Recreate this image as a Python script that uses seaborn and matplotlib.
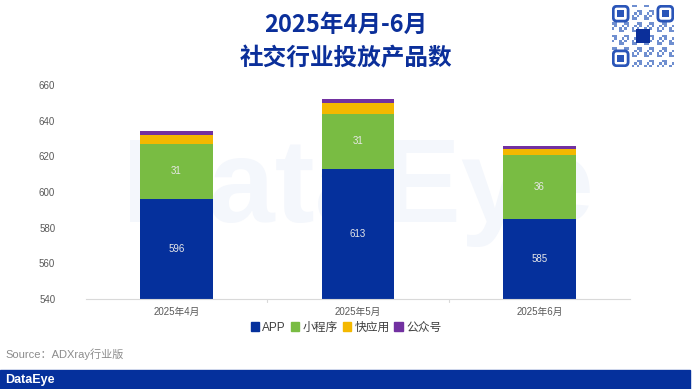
import matplotlib
matplotlib.use("Agg")
import matplotlib.pyplot as plt
from matplotlib.patches import Rectangle, FancyBboxPatch
import numpy as np
import pandas as pd
import seaborn as sns

months = ["2025年4月", "2025年5月", "2025年6月"]
series = ["APP", "小程序", "快应用", "公众号"]
app = [596, 613, 585]
mini = [31, 31, 36]
quick = [5, 6, 3]
wechat = [2, 2, 2]
colors = ["#05309c", "#79bc43", "#f4b800", "#7231a1"]
yticks = [540, 560, 580, 600, 620, 640, 660]

sns.set_theme(style="white")
plt.rcParams["font.family"] = ["Liberation Sans", "Noto Sans CJK SC", "DejaVu Sans"]

df = pd.DataFrame({"month": months, "APP": app, "小程序": mini, "快应用": quick, "公众号": wechat})
cum = df[series].cumsum(axis=1)
cum["month"] = months

fig = plt.figure(figsize=(6.92, 3.89), dpi=100)
ax = fig.add_axes([0.1239, 0.2314, 0.787, 0.5501])

# faint watermark behind the bars
ax.text(0.5, 0.5, "DataEye", transform=ax.transAxes, ha="center", va="center",
        fontsize=86, fontweight="bold", color="#f4f7fc", zorder=0)

# stacked bars: draw cumulative totals from the top series down
for s, c in zip(reversed(series), reversed(colors)):
    sns.barplot(data=cum, x="month", y=s, color=c, width=0.4, saturation=1,
                ax=ax, zorder=2, edgecolor="none")

ax.set_ylim(540, 660)
ax.set_yticks(yticks)
ax.set_xlim(-0.5, 2.5)
ax.set_xlabel("")
ax.set_ylabel("")
ax.tick_params(axis="y", labelsize=7, colors="#595959", length=0, pad=22)
ax.tick_params(axis="x", labelsize=7, colors="#595959", length=0, pad=6)
for sp in ["top", "right", "left"]:
    ax.spines[sp].set_visible(False)
ax.spines["bottom"].set_color("#d9d9d9")
ax.spines["bottom"].set_linewidth(0.8)
for xb in [0.5, 1.5]:
    ax.plot([xb, xb], [540, 538.5], color="#d9d9d9", lw=0.8, clip_on=False)

# value labels
for i in range(3):
    ax.text(i, (540 + app[i]) / 2, str(app[i]), ha="center", va="center",
            fontsize=7, color="#e8e8e8", zorder=5)
    ax.text(i, app[i] + mini[i] / 2, str(mini[i]), ha="center", va="center",
            fontsize=7, color="#e8e8e8", zorder=5)

# legend
handles = [Rectangle((0, 0), 1, 1, color=c) for c in colors]
fig.legend(handles, series, loc="center", bbox_to_anchor=(0.5, 0.158), ncol=4,
           frameon=False, fontsize=8.5, handlelength=0.7, handleheight=0.7,
           handletextpad=0.3, columnspacing=0.4, labelcolor="#404040")

# title
fig.text(0.5, 0.935, "2025年4月-6月", ha="center", va="center", fontsize=17,
         fontweight="bold", color="#0b2f9a", family=["Noto Sans CJK SC"])
fig.text(0.5, 0.85, "社交行业投放产品数", ha="center", va="center", fontsize=17,
         fontweight="bold", color="#0b2f9a", family=["Noto Sans CJK SC"])

# source and footer band
fig.text(0.008, 0.09, "Source：ADXray行业版", ha="left", va="center", fontsize=8,
         color="#8c8c8c", family=["Liberation Sans", "Noto Sans CJK SC"])
fig.patches.append(Rectangle((0, 0.0), 0.997, 0.049, transform=fig.transFigure,
                             color="#05309c", zorder=0))
fig.text(0.008, 0.024, "DataEye", ha="left", va="center", fontsize=9,
         color="white", fontweight="bold", family=["Liberation Sans"])

# QR code placeholder
qx, qy, qs = 612 / 692, 1 - 67 / 389, 62 / 692
qax = fig.add_axes([qx, qy, qs, 62 / 389])
qax.set_xlim(0, 25)
qax.set_ylim(0, 25)
qax.axis("off")
n = 25
for i in range(n):
    for j in range(n):
        if (i * 7 + j * 13 + i * j) % 5 < 2:
            qax.add_patch(Rectangle((i, j), 1, 1, color="#6f8fd0", lw=0))
for (fx, fy) in [(0, 0), (0, 18), (18, 18)]:
    qax.add_patch(Rectangle((fx, fy), 7, 7, color="white", lw=0, zorder=3))
    qax.add_patch(FancyBboxPatch((fx + 0.5, fy + 0.5), 6, 6, boxstyle="round,pad=0,rounding_size=1.5",
                                 fc="none", ec="#2a55b8", lw=2, zorder=4))
    qax.add_patch(Rectangle((fx + 2, fy + 2), 3, 3, color="#2a55b8", lw=0, zorder=4))
qax.add_patch(Rectangle((9.5, 9.5), 6, 6, color="#0b2f9a", lw=0, zorder=4))

fig.savefig("out.png", dpi=100)
